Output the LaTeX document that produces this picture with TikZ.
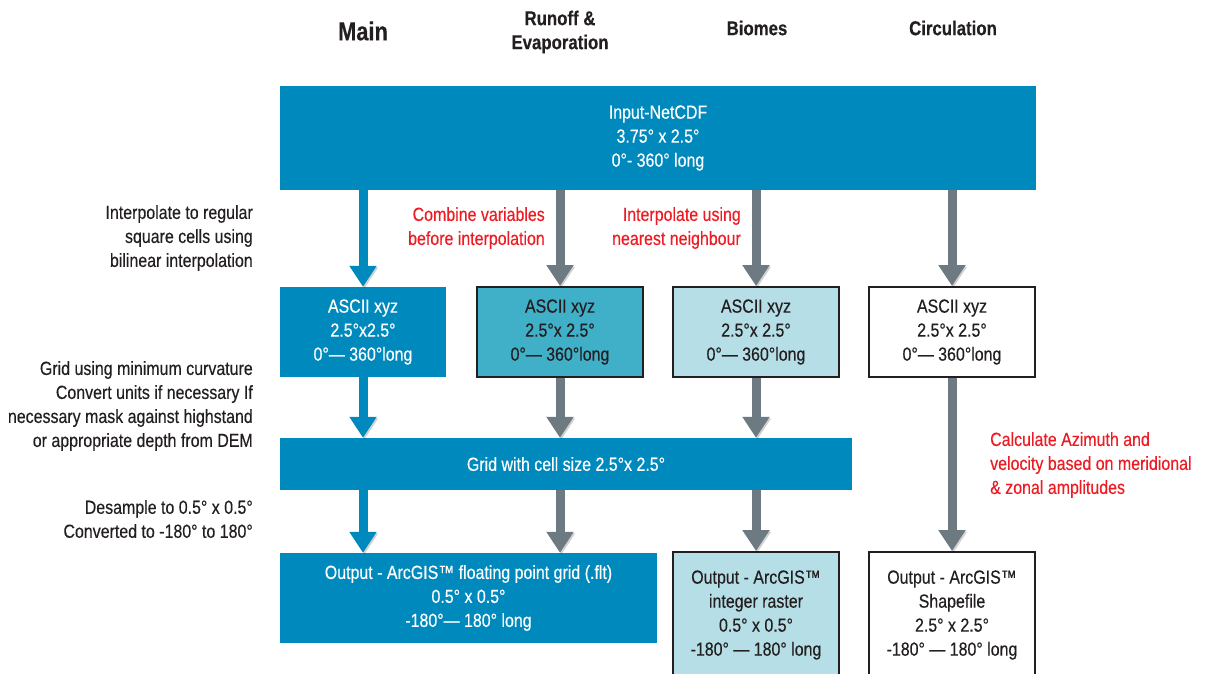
\documentclass[tikz,border=0pt]{standalone}
\usepackage{fontspec}
\setmainfont[FakeStretch=0.84, FakeBold=0.35, BoldFeatures={FakeStretch=0.84}]{Liberation Sans}
\usepackage{tikz}
\usetikzlibrary{arrows.meta}
\usetikzlibrary{positioning}
\definecolor{gisblue}{RGB}{0,137,188}
\definecolor{gisteal}{RGB}{64,176,200}
\definecolor{gislight}{RGB}{181,222,230}
\definecolor{gisgray}{RGB}{110,122,130}
\definecolor{gisred}{RGB}{237,28,36}
\definecolor{gisink}{RGB}{35,31,32}
\tikzset{
    box/.style={
        rectangle,
        minimum width=166pt,
        minimum height=90pt,
        align=center,
        inner sep=2pt,
        font=\fontsize{19}{24}\selectfont
    },
    bluebox/.style={box, fill=gisblue, text=white},
    linebox/.style={box, draw=gisink, line width=2pt, text=gisink},
    note/.style={inner sep=0pt, font=\fontsize{19}{24}\selectfont, text=gisink},
    rednote/.style={inner sep=0pt, font=\fontsize{19}{24}\selectfont, text=gisred},
    head/.style={font=\bfseries\fontsize{20}{24}\selectfont, text=gisink, align=center},
    flow/.style={line width=9pt, -{Triangle[width=26pt, length=21pt]},
        preaction={draw=black, opacity=0.18, transform canvas={xshift=1.5pt, yshift=-1.5pt}}},
    blueflow/.style={flow, gisblue},
    grayflow/.style={flow, gisgray}
}

\begin{document}
\begin{tikzpicture}[x=1pt, y=-1pt]
    \useasboundingbox (0,0) rectangle (1205,673);
    \clip (0,0) rectangle (1205,673);

    % Column titles
    \node[head, font=\bfseries\fontsize{26}{30}\selectfont] (tmain) at (363,31) {Main};
    \node[head] (trun) at (560,32) {Runoff \&\\Evaporation};
    \node[head] (tbio) at (757,28) {Biomes};
    \node[head] (tcirc) at (953,28) {Circulation};

    % Boxes
    \node[bluebox, minimum width=756pt, minimum height=104pt] (input) at (658,138)
        {Input-NetCDF\\3.75° x 2.5°\\0°- 360° long};
    \node[bluebox] (amain) at (363,332) {ASCII xyz\\2.5°x2.5°\\0°— 360°long};
    \node[linebox, fill=gisteal] (arun) at (560,332) {ASCII xyz\\2.5°x 2.5°\\0°— 360°long};
    \node[linebox, fill=gislight] (abio) at (756,332) {ASCII xyz\\2.5°x 2.5°\\0°— 360°long};
    \node[linebox, fill=white] (acirc) at (952,332) {ASCII xyz\\2.5°x 2.5°\\0°— 360°long};
    \node[bluebox, minimum width=572pt, minimum height=52pt] (grid) at (566,464)
        {Grid with cell size 2.5°x 2.5°};
    \node[bluebox, minimum width=377pt] (omain) at (468.5,598)
        {Output - ArcGIS™ floating point grid (.flt)\\0.5° x 0.5°\\-180°— 180° long};
    \node[linebox, fill=gislight, minimum height=126pt] (obio) at (756,615)
        {Output - ArcGIS™\\integer raster\\0.5° x 0.5°\\-180° — 180° long};
    \node[linebox, fill=white, minimum height=126pt] (ocirc) at (952,615)
        {Output - ArcGIS™\\Shapefile\\2.5° x 2.5°\\-180° — 180° long};

    % Arrows
    \draw[blueflow] (input.south -| amain.north) -- (amain.north);
    \draw[blueflow] (amain.south) -- (grid.north -| amain.south);
    \draw[blueflow] (grid.south -| amain.south) -- (omain.north -| amain.south);
    \draw[grayflow] (input.south -| arun.north) -- (arun.north);
    \draw[grayflow] (arun.south) -- (grid.north -| arun.south);
    \draw[grayflow] (grid.south -| arun.south) -- (omain.north -| arun.south);
    \draw[grayflow] (input.south -| abio.north) -- (abio.north);
    \draw[grayflow] (abio.south) -- (grid.north -| abio.south);
    \draw[grayflow] (grid.south -| abio.south) -- (obio.north);
    \draw[grayflow] (input.south -| acirc.north) -- (acirc.north);
    \draw[grayflow] (acirc.south) -- (ocirc.north);

    % Notes
    \node[note, anchor=east, align=right] (n1) at (253,238)
        {Interpolate to regular\\square cells using\\bilinear interpolation};
    \node[note, anchor=east, align=right] (n2) at (253,406)
        {Grid using minimum curvature\\Convert units if necessary If\\necessary mask against highstand\\or appropriate depth from DEM};
    \node[note, anchor=east, align=right] (n3) at (253,519)
        {Desample to 0.5° x 0.5°\\Converted to -180° to 180°};
    \node[rednote, anchor=east, align=right] (r1) at (545,228)
        {Combine variables\\before interpolation};
    \node[rednote, anchor=east, align=right] (r2) at (741,228)
        {Interpolate using\\nearest neighbour};
    \node[rednote, anchor=west, align=left] (r3) at (990,465)
        {Calculate Azimuth and\\velocity based on meridional\\\& zonal amplitudes};
\end{tikzpicture}
\end{document}
